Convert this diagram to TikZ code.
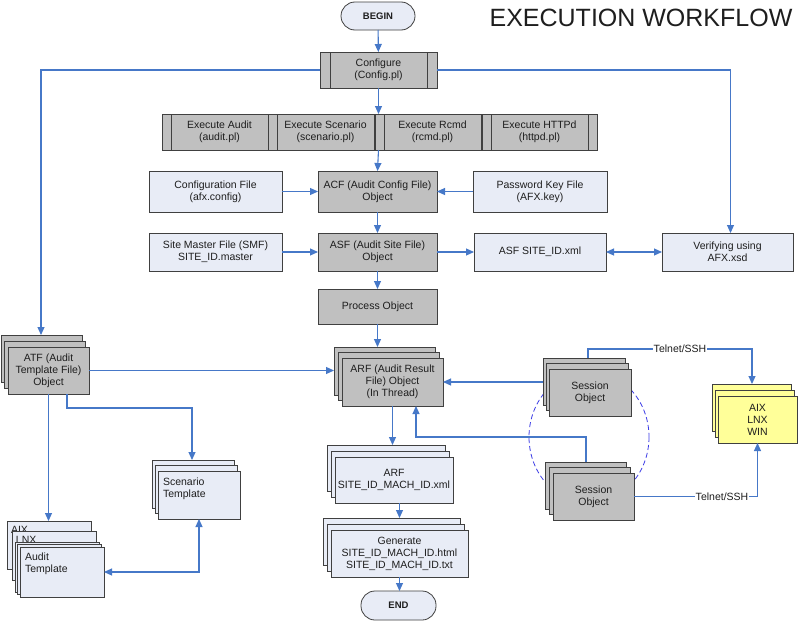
\documentclass[tikz,border=0pt]{standalone}
\usepackage{fontspec}
\setmainfont{Liberation Sans}
\usetikzlibrary{arrows.meta,shadows,calc}
\definecolor{gboxfill}{RGB}{192,192,192}
\definecolor{bboxfill}{RGB}{232,236,246}
\definecolor{yboxfill}{RGB}{255,255,153}
\definecolor{edgecol}{RGB}{64,64,64}
\definecolor{linkcol}{RGB}{70,120,200}
\definecolor{dashcol}{RGB}{60,60,230}
\definecolor{textcol}{RGB}{30,30,30}
\begin{document}
\begin{tikzpicture}[x=1pt,y=-1pt,
  every node/.style={font=\fontsize{10.5}{12}\selectfont, text=textcol, inner sep=1pt, outer sep=0pt, align=center},
  gbox/.style={draw=edgecol, fill=gboxfill, line width=0.8pt},
  bbox/.style={draw=edgecol, fill=bboxfill, line width=0.8pt},
  ybox/.style={draw=edgecol, fill=yboxfill, line width=0.8pt},
  termbox/.style={draw=edgecol, fill=bboxfill, line width=0.8pt, rounded corners=14pt, font=\fontsize{9.5}{11}\selectfont\bfseries},
  stack/.style n args={5}{general shadow={shadow xshift=#3, shadow yshift=#4, draw=edgecol, fill=#5, line width=0.8pt}, general shadow={shadow xshift=#1, shadow yshift=#2, draw=edgecol, fill=#5, line width=0.8pt}},
  bandline/.style={draw=edgecol, line width=0.8pt},
  link/.style={draw=linkcol, line width=1.1pt, -{Triangle[length=8pt,width=7pt]}},
  both/.style={{Triangle[length=8pt,width=7pt]}-{Triangle[length=8pt,width=7pt]}},
  lbl/.style={fill=white, inner sep=1pt},
  corner/.style={anchor=north west, align=left}
]
\fill[white] (0,0) rectangle (800,621);
\useasboundingbox (0,0) rectangle (800,621);

% title
\node[font=\fontsize{25}{28}\selectfont] (title) at (641,18) {EXECUTION WORKFLOW};

% begin / configure
\node[termbox, minimum width=74pt, minimum height=28pt] (begin) at (378,16) {BEGIN};
\node[gbox, minimum width=117pt, minimum height=36pt] (conf) at (378.5,70) {Configure\\(Config.pl)};

% execute strip
\node[gbox, minimum width=115pt, minimum height=36pt] (exA) at (219.5,132) {Execute Audit\\(audit.pl)};
\node[gbox, minimum width=115pt, minimum height=36pt] (exS) at (325.5,132) {Execute Scenario\\(scenario.pl)};
\node[gbox, minimum width=115pt, minimum height=36pt] (exR) at (432.5,132) {Execute Rcmd\\(rcmd.pl)};
\node[gbox, minimum width=115pt, minimum height=36pt] (exH) at (539.5,132) {Execute HTTPd\\(httpd.pl)};
\foreach \n/\w in {conf/10pt,exA/9pt,exS/9pt,exR/9pt,exH/9pt}{
  \draw[bandline] ([xshift=\w]\n.north west) -- ([xshift=\w]\n.south west)
                  ([xshift=-\w]\n.north east) -- ([xshift=-\w]\n.south east);
}

% ACF row
\node[bbox, minimum width=133pt, minimum height=41pt] (cfgf) at (215.5,191.5) {Configuration File\\(afx.config)};
\node[gbox, minimum width=119pt, minimum height=41pt] (acf) at (377.5,191.5) {ACF (Audit Config File)\\Object};
\node[bbox, minimum width=134pt, minimum height=41pt] (pwd) at (540,191.5) {Password Key File\\(AFX.key)};

% ASF row
\node[bbox, minimum width=133pt, minimum height=38pt] (smf) at (215.5,252) {Site Master File (SMF)\\SITE\_ID.master};
\node[gbox, minimum width=119pt, minimum height=38pt] (asf) at (377.5,252) {ASF (Audit Site File)\\Object};
\node[bbox, minimum width=132pt, minimum height=38pt] (asfx) at (540,252) {ASF SITE\_ID.xml};
\node[bbox, minimum width=131pt, minimum height=38pt] (verif) at (727.5,252) {Verifying using\\AFX.xsd};

\node[gbox, minimum width=119pt, minimum height=35pt] (proc) at (377.5,306.5) {Process Object};

% dashed ellipse behind sessions
\draw[dashcol, line width=0.8pt, dash pattern=on 5pt off 3pt] (589,437) ellipse [x radius=60, y radius=66];

% stacks
\node[gbox, stack={-3.5pt}{6pt}{-7pt}{12pt}{gboxfill}, minimum width=81pt, minimum height=47pt] (atf) at (48.5,370.5) {ATF (Audit\\Template File)\\Object};
\node[gbox, stack={-4pt}{5.5pt}{-8pt}{11pt}{gboxfill}, minimum width=101pt, minimum height=48pt] (arf) at (392.5,382) {ARF (Audit Result\\File) Object\\(In Thread)};
\node[bbox, stack={-3pt}{5.5pt}{-6pt}{11pt}{bboxfill}, minimum width=82pt, minimum height=48pt] (scen) at (199,495) {};
\node[corner] (scenT) at ([shift={(4pt,-6pt)}]scen.north west) {Scenario\\Template};
\node[bbox, stack={-4pt}{6pt}{-8pt}{12pt}{bboxfill}, minimum width=118pt, minimum height=46pt] (arfx) at (394,480) {ARF\\SITE\_ID\_MACH\_ID.xml};
\node[bbox, stack={-4pt}{6pt}{-8pt}{12pt}{bboxfill}, minimum width=137pt, minimum height=47pt] (gen) at (399.5,553.5) {Generate\\SITE\_ID\_MACH\_ID.html\\SITE\_ID\_MACH\_ID.txt};
\node[termbox, minimum width=75pt, minimum height=29pt] (end) at (398.5,605.5) {END};

\node[gbox, stack={-3pt}{5.5pt}{-6pt}{11pt}{gboxfill}, minimum width=82pt, minimum height=47pt] (sess1) at (590,392.5) {Session\\Object};
\node[gbox, stack={-4pt}{5.5pt}{-8pt}{11pt}{gboxfill}, minimum width=81pt, minimum height=47pt] (sess2) at (593.5,496.5) {Session\\Object};
\node[ybox, stack={-3pt}{6pt}{-6pt}{12pt}{yboxfill}, minimum width=79pt, minimum height=47pt] (aix) at (757.5,419.5) {AIX\\LNX\\WIN};

% audit template pile
\node[bbox, minimum width=84pt, minimum height=48pt] (aixL) at (49,545) {};
\node[corner] (aixT) at ([shift={(3pt,-4pt)}]aixL.north west) {AIX};
\node[bbox, minimum width=84pt, minimum height=49pt] (lnxL) at (54,555.5) {};
\node[corner] (lnxT) at ([shift={(3pt,-4pt)}]lnxL.north west) {LNX};
\node[bbox, stack={-2.5pt}{2.5pt}{-5pt}{5pt}{bboxfill}, minimum width=84pt, minimum height=50pt] (audT) at (62,572) {};
\node[corner] (audTT) at ([shift={(4pt,-5pt)}]audT.north west) {Audit\\Template};

% coordinates on back layers
\coordinate (atfTop) at (41,335);
\coordinate (arfTop) at (377.5,347);
\coordinate (arfLeft) at (334,370.5);
\coordinate (scenTop) at (192,460);
\coordinate (arfxTop) at (392.5,445);
\coordinate (genTop) at (399.5,518);
\coordinate (sess1Left) at (543,382);
\coordinate (sess2Top) at (586,462);
\coordinate (sess1Top) at (588,358);
\coordinate (aixTop) at (752,384);

% connectors
\draw[link] (begin) -- (conf);
\draw[link] (conf.west) -| (atfTop);
\draw[link] (conf.east) -| ([xshift=3pt]verif.north);
\draw[link] (conf.south) -- (conf.south |- exS.north);
\draw[link] (conf.south |- exS.south) -- (acf.north);
\draw[link] (cfgf) -- (acf);
\draw[link] (pwd) -- (acf);
\draw[link] (acf) -- (asf);
\draw[link] (smf) -- (asf);
\draw[link] (asf) -- (asfx);
\draw[link, both] (asfx) -- (verif);
\draw[link] (asf) -- (proc);
\draw[link] (proc.south) -- (arfTop);
\draw[link] (atf.east) -- (arfLeft);
\draw[link] (atf.south) -- (atf.south |- aixL.north);
\draw[link] ([xshift=18.5pt]atf.south) -- ++(0,14) -| (scenTop);
\draw[link, both] (audT.east) -| (scen.south);
\draw[link] (arf.south) -- (arfxTop);
\draw[link] (arfx.south -| genTop) -- (genTop);
\draw[link] (gen.south) -- (gen.south |- end.north);
\draw[link] (sess1Left) -- (arf.east);
\draw[link] (sess2Top) -- ++(0,-25) -| ([xshift=23.5pt]arf.south);
\draw[link] (sess1Top) -- ++(0,-9) coordinate (t1) -- (t1 -| aixTop) -- (aixTop);
\draw[link] (sess2.east) -- (sess2.east -| aix.south) -- (aix.south);
\node[lbl] (tel1) at (680,349) {Telnet/SSH};
\node[lbl] (tel2) at (722,496.5) {Telnet/SSH};
\end{tikzpicture}
\end{document}
